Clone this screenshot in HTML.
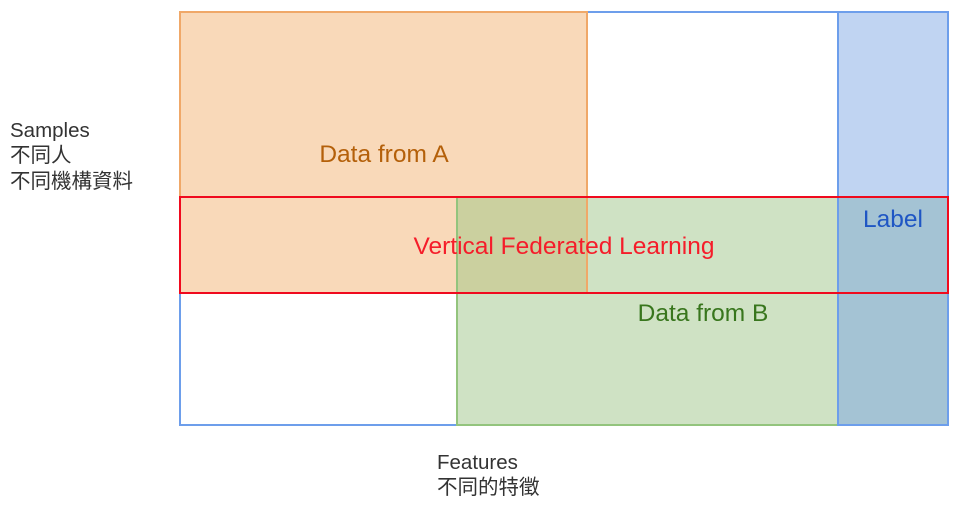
<!DOCTYPE html>
<html><head><meta charset="utf-8"><style>
html,body{margin:0;padding:0;background:#fff;width:960px;height:505px;overflow:hidden}
</style></head><body>
<svg width="960" height="505" xmlns="http://www.w3.org/2000/svg" font-family="Liberation Sans, 'Noto Sans CJK TC', sans-serif">
<rect x="180" y="12" width="768" height="413" fill="#fff" stroke="#6d9eeb" stroke-width="2"/>
<rect x="180" y="12" width="407" height="281" fill="#f9d9b9"/>
<rect x="457" y="197" width="381" height="228" fill="#cfe2c4"/>
<rect x="457" y="197" width="130" height="96" fill="#cbd09f"/>
<rect x="838" y="12" width="110" height="185" fill="#c0d4f2"/>
<rect x="838" y="197" width="110" height="228" fill="#a4c3d4"/>
<rect x="180" y="12" width="407" height="281" fill="none" stroke="#f0a868" stroke-width="2"/>
<rect x="457" y="197" width="381" height="228" fill="none" stroke="#93c47d" stroke-width="2"/>
<rect x="838" y="12" width="110" height="413" fill="none" stroke="#6d9eeb" stroke-width="2"/>
<rect x="180" y="197" width="768" height="96" fill="none" stroke="#f00a1e" stroke-width="2"/>
<g font-size="24.5" text-anchor="middle">
<text x="384" y="162" fill="#b4600a">Data from A</text>
<text x="564" y="254" fill="#f51d2a">Vertical Federated Learning</text>
<text x="893" y="227" fill="#1f56c4">Label</text>
<text x="703" y="321" fill="#38761d">Data from B</text>
</g>
<g font-size="20.5" fill="#333">
<text x="10" y="137">Samples</text>
<text x="10" y="162">不同人</text>
<text x="10" y="188">不同機構資料</text>
<text x="437" y="469">Features</text>
<text x="437" y="494">不同的特徵</text>
</g>
</svg>
</body></html>
